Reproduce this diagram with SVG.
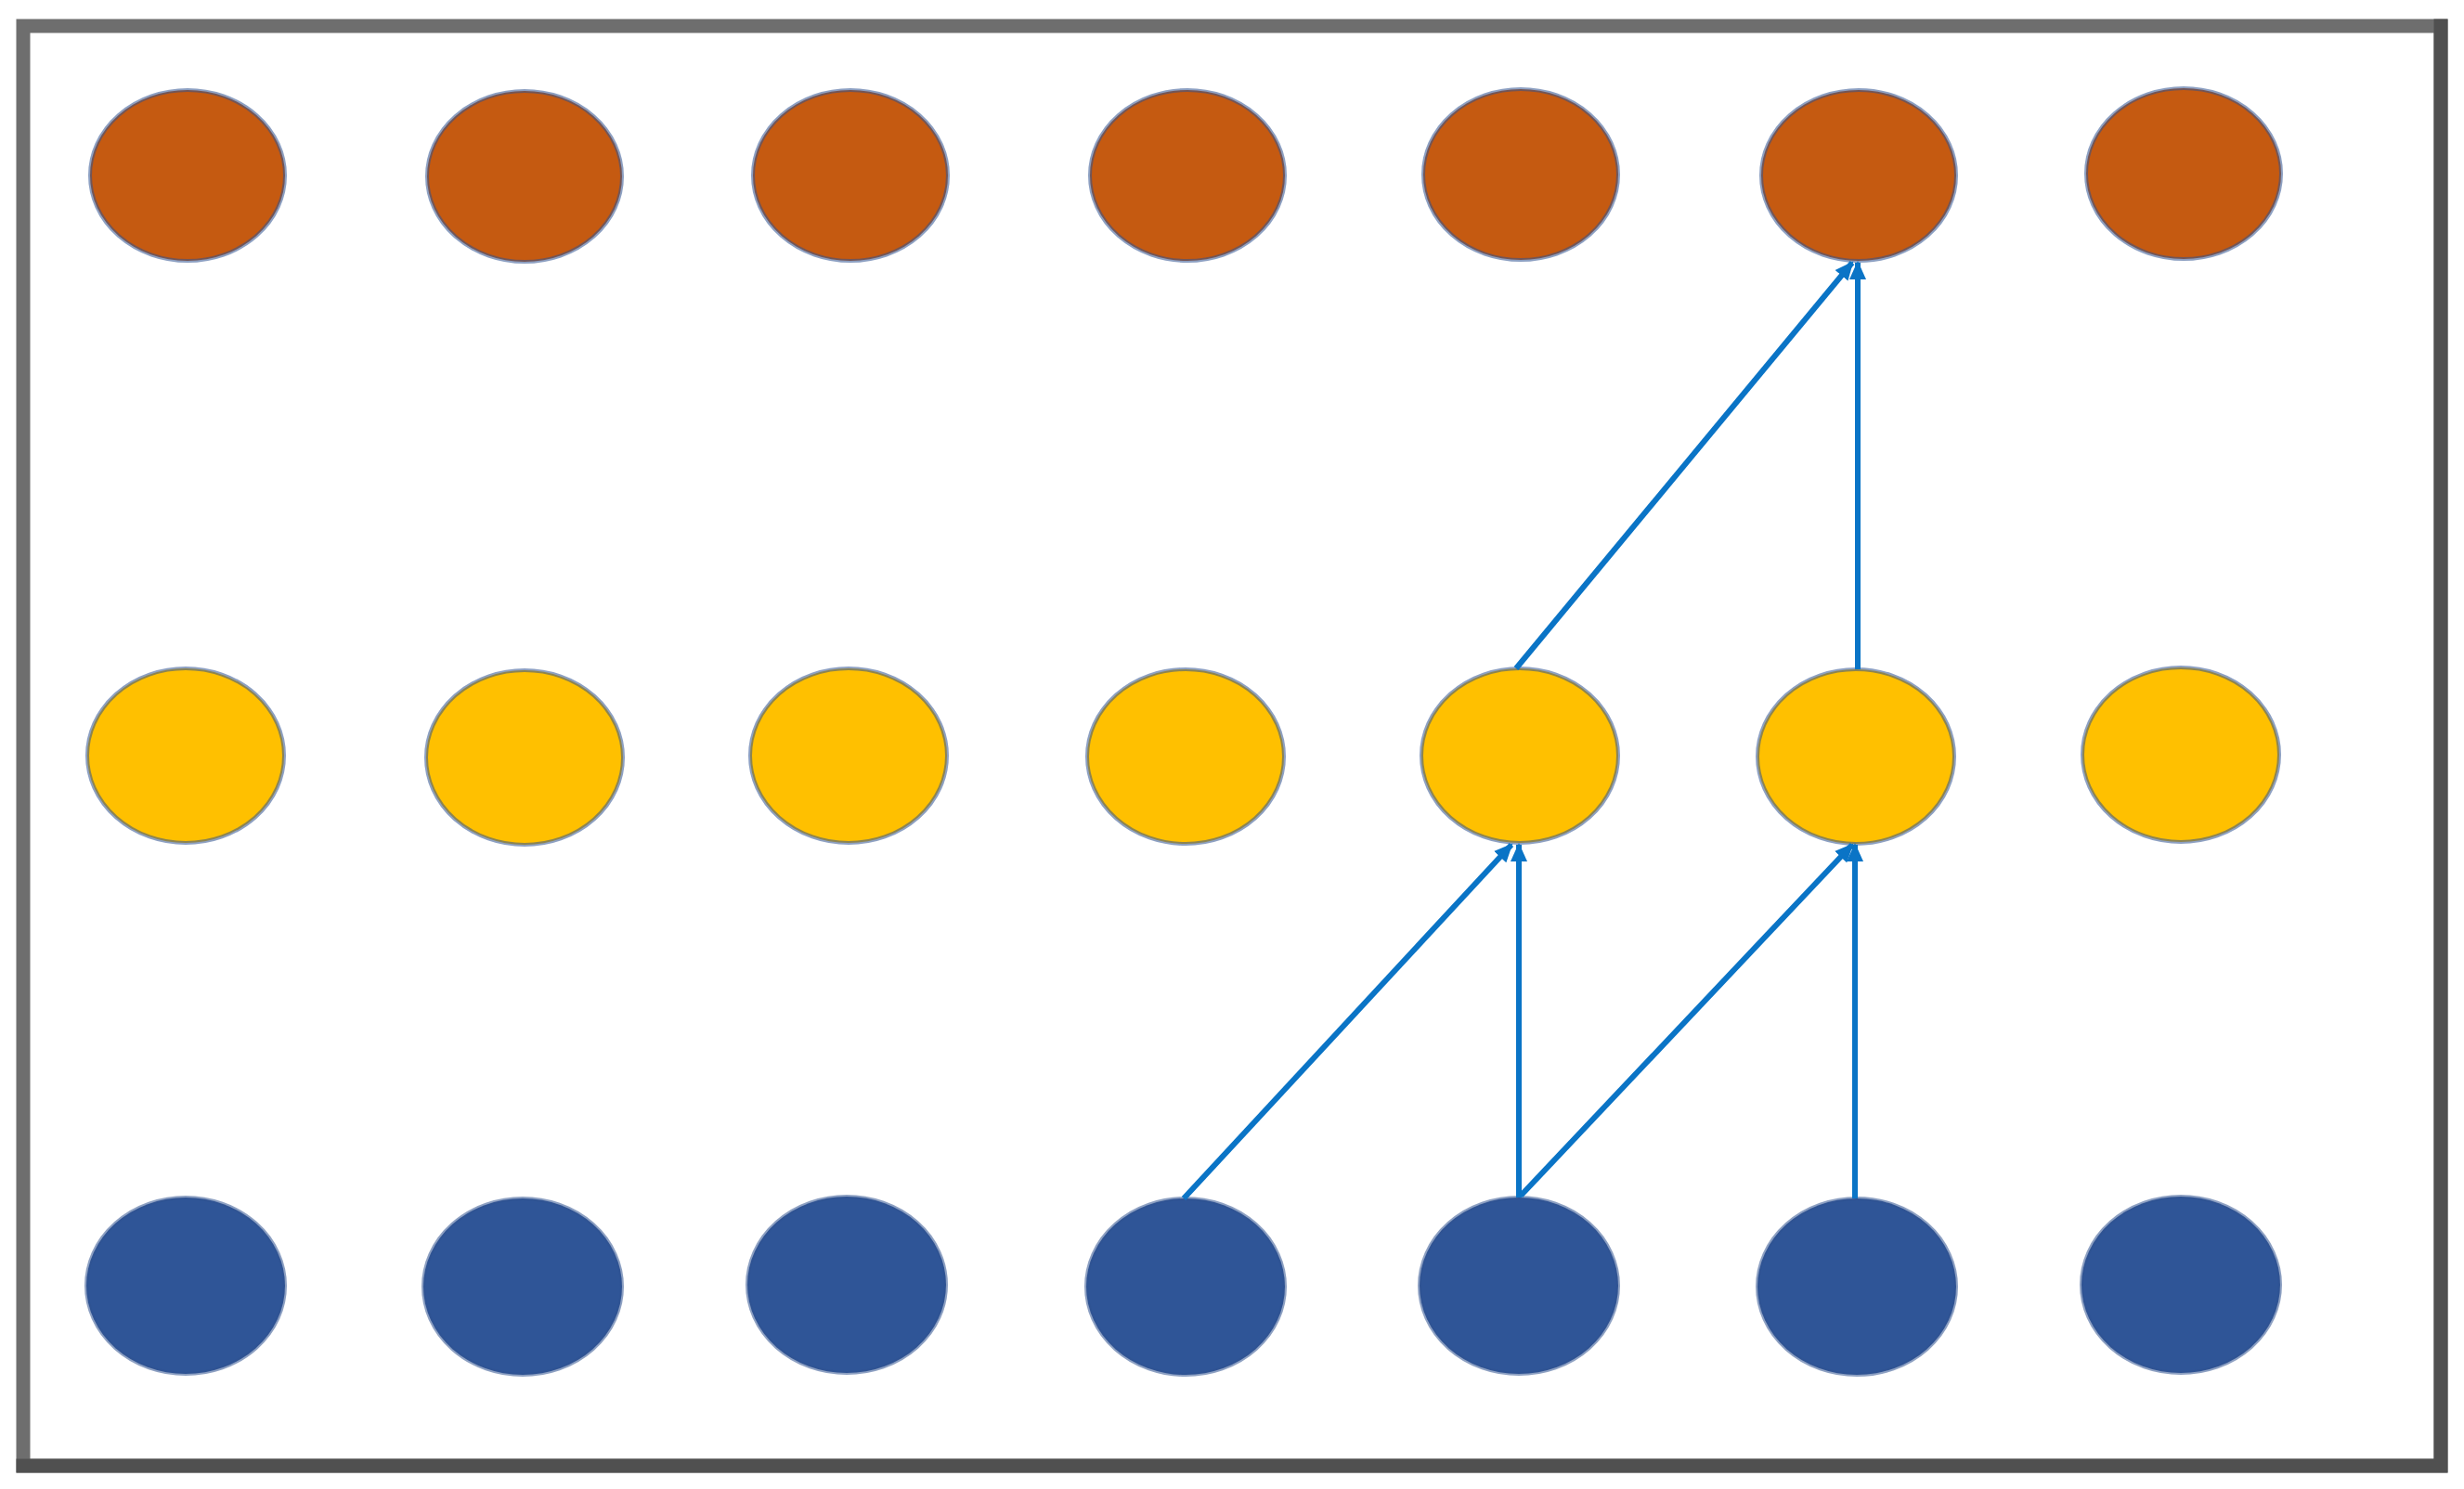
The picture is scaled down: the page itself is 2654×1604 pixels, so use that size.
<svg xmlns="http://www.w3.org/2000/svg" width="2654" height="1604" viewBox="0 0 2654 1604">
<defs>
<style>
.o{fill:#C55A11}
.y{fill:#FFC000}
.b{fill:#2F5597}
ellipse{stroke:#2F528F;stroke-width:4;stroke-opacity:0.55}
.c{stroke:#0A74C6;stroke-width:6;fill:none;marker-end:url(#ah)}
</style>
<marker id="ah" markerUnits="userSpaceOnUse" markerWidth="22" markerHeight="20" refX="18" refY="10" orient="auto">
<path d="M0,1 L20,10 L0,19 Z" fill="#0A74C6"/>
</marker>
</defs>
<rect x="0" y="0" width="2654" height="1604" fill="#ffffff"/>
<g id="frame">
<rect x="25" y="28" width="2604" height="1551" fill="#ffffff" stroke="#6e6e6e" stroke-width="15"/>
<path d="M17.5,1579 H2629 V20.5" fill="none" stroke="#505050" stroke-width="15"/>
</g>
<g id="top-row">
<g id="t1"><ellipse class="o" cx="202" cy="189" rx="105" ry="92"/></g>
<g id="t2"><ellipse class="o" cx="565" cy="190" rx="105" ry="92"/></g>
<g id="t3"><ellipse class="o" cx="916" cy="189" rx="105" ry="92"/></g>
<g id="t4"><ellipse class="o" cx="1279" cy="189" rx="105" ry="92"/></g>
<g id="t5"><ellipse class="o" cx="1638" cy="188" rx="105" ry="92"/></g>
<g id="t6"><ellipse class="o" cx="2002" cy="189" rx="105" ry="92"/></g>
<g id="t7"><ellipse class="o" cx="2352" cy="187" rx="105" ry="92"/></g>
</g>
<g id="mid-row">
<g id="m1"><ellipse class="y" cx="200" cy="814" rx="106" ry="94"/></g>
<g id="m2"><ellipse class="y" cx="565" cy="816" rx="106" ry="94"/></g>
<g id="m3"><ellipse class="y" cx="914" cy="814" rx="106" ry="94"/></g>
<g id="m4"><ellipse class="y" cx="1277" cy="815" rx="106" ry="94"/></g>
<g id="m5"><ellipse class="y" cx="1637" cy="814" rx="106" ry="94"/></g>
<g id="m6"><ellipse class="y" cx="1999" cy="815" rx="106" ry="94"/></g>
<g id="m7"><ellipse class="y" cx="2349" cy="813" rx="106" ry="94"/></g>
</g>
<g id="bot-row">
<g id="b1"><ellipse class="b" cx="200" cy="1385" rx="107" ry="95"/></g>
<g id="b2"><ellipse class="b" cx="563" cy="1386" rx="107" ry="95"/></g>
<g id="b3"><ellipse class="b" cx="912" cy="1384" rx="107" ry="95"/></g>
<g id="b4"><ellipse class="b" cx="1277" cy="1386" rx="107" ry="95"/></g>
<g id="b5"><ellipse class="b" cx="1636" cy="1385" rx="107" ry="95"/></g>
<g id="b6"><ellipse class="b" cx="2000" cy="1386" rx="107" ry="95"/></g>
<g id="b7"><ellipse class="b" cx="2349" cy="1384" rx="107" ry="95"/></g>
</g>
<g id="connectors">
<line class="c" x1="1275" y1="1291" x2="1628" y2="910"/>
<line class="c" x1="1636" y1="1290" x2="1636" y2="910"/>
<line class="c" x1="1638" y1="1288" x2="1995" y2="910"/>
<line class="c" x1="1998" y1="1291" x2="1998" y2="910"/>
<line class="c" x1="1633" y1="720" x2="1995" y2="283"/>
<line class="c" x1="2001" y1="721" x2="2001" y2="283"/>
</g>
</svg>
